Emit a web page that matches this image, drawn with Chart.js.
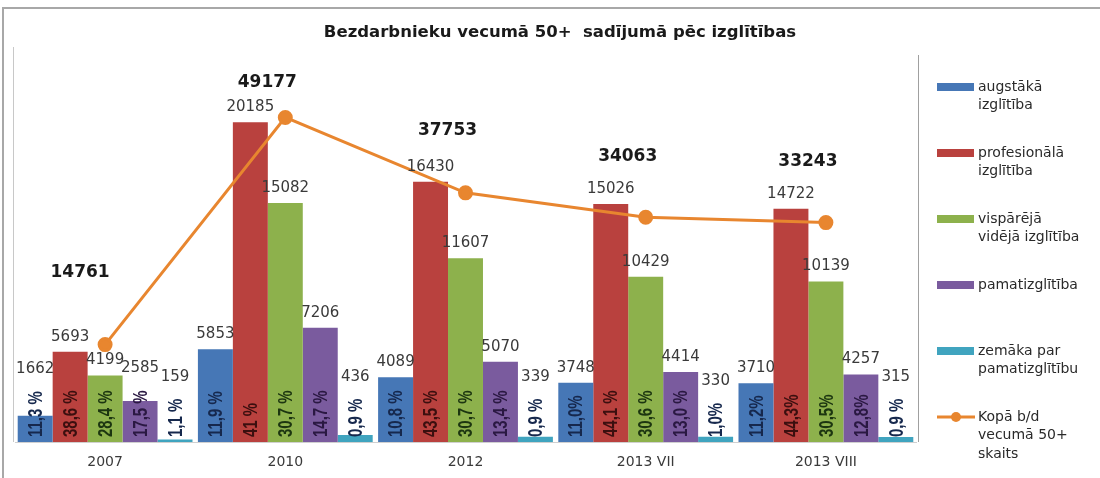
<!DOCTYPE html>
<html>
<head>
<meta charset="utf-8">
<script src="https://cdn.jsdelivr.net/npm/chart.js@4.4.0/dist/chart.umd.min.js"></script>
<style>
  html, body { margin: 0; padding: 0; background: #fff; }
  #wrap { width: 1100px; height: 478px; }
</style>
</head>
<body>
<div id="wrap"><canvas id="eduChart" width="1100" height="478"></canvas></div>
<script>
// Dati
const periods = ['2007', '2010', '2012', '2013 VII', '2013 VIII'];
const seriesNames = ['augstākā\nizglītība', 'profesionālā\nizglītība', 'vispārējā\nvidējā izglītība', 'pamatizglītība', 'zemāka par\npamatizglītību'];
const totalName = 'Kopā b/d\nvecumā 50+\nskaits';

const higherEd = [1662, 5853, 4089, 3748, 3710];
const vocationalEd = [5693, 20185, 16430, 15026, 14722];
const secondaryEd = [4199, 15082, 11607, 10429, 10139];
const basicEd = [2585, 7206, 5070, 4414, 4257];
const belowBasic = [159, 436, 339, 330, 315];
const totalUnemployed = [14761, 49177, 37753, 34063, 33243];

const higherPct = ['11,3 %', '11,9 %', '10,8 %', '11,0%', '11,2%'];
const vocationalPct = ['38,6 %', '41 %', '43,5 %', '44,1 %', '44,3%'];
const secondaryPct = ['28,4 %', '30,7 %', '30,7 %', '30,6 %', '30,5%'];
const basicPct = ['17,5 %', '14,7 %', '13,4 %', '13,0 %', '12,8%'];
const belowPct = ['1,1 %', '0,9 %', '0,9 %', '1,0%', '0,9 %'];

const barColors = ['#4677b6', '#b9413e', '#8db14c', '#7a5b9e', '#40a4bf'];
const pctColors = ['#16284d', '#3b0f0f', '#1c3510', '#2a1842', '#16284d'];
const lineColor = '#e8862f';
const FONT = '"DejaVu Sans", sans-serif';

const barSeries = [higherEd, vocationalEd, secondaryEd, basicEd, belowBasic];
const pctSeries = [higherPct, vocationalPct, secondaryPct, basicPct, belowPct];
// cik augstu virs punkta stāv kopskaita etiķete
const totalLabelLift = [72, 35, 62, 61, 61];

const decorPlugin = {
    id: 'decor',
    beforeDraw(chart) {
        const { ctx, chartArea: a } = chart;
        ctx.save();
        ctx.fillStyle = '#fff';
        ctx.fillRect(0, 0, chart.width, chart.height);
        ctx.strokeStyle = '#a8a8a8';
        ctx.lineWidth = 2;
        ctx.strokeRect(3, 8, chart.width + 20, chart.height + 20);
        ctx.lineWidth = 1;
        ctx.strokeStyle = '#c8c8c8';
        ctx.beginPath();
        ctx.moveTo(a.left - 1.5, 47); ctx.lineTo(a.left - 1.5, a.bottom);
        ctx.stroke();
        ctx.strokeStyle = '#a0a0a0';
        ctx.beginPath();
        ctx.moveTo(a.right + 2.5, 55); ctx.lineTo(a.right + 2.5, a.bottom);
        ctx.stroke();
        // virsraksts
        ctx.fillStyle = '#1a1a1a';
        ctx.font = 'bold 16.5px ' + FONT;
        ctx.textAlign = 'center';
        ctx.textBaseline = 'middle';
        ctx.fillText('Bezdarbnieku vecumā 50+  sadījumā pēc izglītības', 560, 33);
        ctx.restore();
    },
    afterDatasetsDraw(chart) {
        const { ctx } = chart;
        ctx.save();
        const base = chart.scales.y.getPixelForValue(0);
        for (let s = 0; s < barSeries.length; s++) {
            const meta = chart.getDatasetMeta(s);
            meta.data.forEach((bar, i) => {
                // procenti vertikāli
                ctx.font = 'bold 15px "Liberation Sans", sans-serif';
                const txt = pctSeries[s][i];
                const w = ctx.measureText(txt).width;
                ctx.save();
                ctx.translate(bar.x, base - 5);
                ctx.rotate(-Math.PI / 2);
                ctx.scale(1, 1.3);
                ctx.fillStyle = pctColors[s];
                ctx.textAlign = 'left';
                ctx.textBaseline = 'middle';
                ctx.fillText(txt, 0, 1);
                ctx.restore();
                // vērtība virs stabiņa
                const pctTop = base - 5 - w;
                const y = Math.min(bar.y - 15, pctTop - 22);
                ctx.font = '15px ' + FONT;
                ctx.fillStyle = '#3a3a3a';
                ctx.textAlign = 'center';
                ctx.textBaseline = 'middle';
                ctx.fillText(String(barSeries[s][i]), bar.x, y);
            });
        }
        ctx.restore();
    },
    afterDraw(chart) {
        const { ctx } = chart;
        ctx.save();
        const lineMeta = chart.getDatasetMeta(5);
        ctx.font = 'bold 17px ' + FONT;
        ctx.fillStyle = '#1a1a1a';
        ctx.textAlign = 'center';
        ctx.textBaseline = 'middle';
        lineMeta.data.forEach((pt, i) => {
            const dx = i === 0 ? -25 : -18;
            ctx.fillText(String(totalUnemployed[i]), pt.x + dx, pt.y - totalLabelLift[i]);
        });

        // leģenda
        const lx = 937, tx = 978;
        ctx.font = '14px ' + FONT;
        ctx.textAlign = 'left';
        const names = seriesNames.concat([totalName]);
        names.forEach((name, i) => {
            const y0 = 87 + i * 66;
            if (i < barColors.length) {
                ctx.fillStyle = barColors[i];
                ctx.fillRect(lx, y0 - 4, 37, 8);
            } else {
                ctx.strokeStyle = lineColor;
                ctx.lineWidth = 3;
                ctx.beginPath();
                ctx.moveTo(lx, y0); ctx.lineTo(lx + 38, y0);
                ctx.stroke();
                ctx.fillStyle = lineColor;
                ctx.beginPath();
                ctx.arc(lx + 19, y0, 5, 0, Math.PI * 2);
                ctx.fill();
            }
            ctx.fillStyle = '#2a2a2a';
            name.split('\n').forEach((line, k) => {
                ctx.fillText(line, tx, y0 + k * 18.5);
            });
        });
        ctx.restore();
    }
};

const ctx = document.getElementById('eduChart').getContext('2d');

const datasets = barSeries.map((vals, s) => ({
    type: 'bar',
    label: seriesNames[s],
    data: vals,
    backgroundColor: barColors[s],
    borderWidth: 0,
    yAxisID: 'y',
    order: 2
}));
datasets.push({
    type: 'line',
    label: totalName,
    data: totalUnemployed,
    borderColor: lineColor,
    backgroundColor: lineColor,
    borderWidth: 3,
    pointRadius: 6,
    pointBackgroundColor: lineColor,
    pointBorderColor: lineColor,
    tension: 0,
    yAxisID: 'y1',
    order: 1
});

new Chart(ctx, {
    data: {
        labels: periods,
        datasets: datasets
    },
    options: {
        responsive: false,
        animation: false,
        layout: {
            padding: { left: 15, right: 184, top: 46, bottom: 7 }
        },
        datasets: {
            bar: { categoryPercentage: 0.97, barPercentage: 1 }
        },
        plugins: {
            legend: { display: false },
            title: { display: false },
            tooltip: { enabled: false }
        },
        scales: {
            x: {
                grid: { display: false },
                border: { display: true, color: '#d0d0d0' },
                ticks: {
                    padding: 4,
                    color: '#3a3a3a',
                    font: { family: FONT, size: 14 }
                },
                afterFit(scale) { scale.height = 29; }
            },
            y: {
                display: false,
                min: 0,
                max: 25000
            },
            y1: {
                display: false,
                position: 'right',
                min: 0,
                max: 60000
            }
        }
    },
    plugins: [decorPlugin]
});
</script>
</body>
</html>
